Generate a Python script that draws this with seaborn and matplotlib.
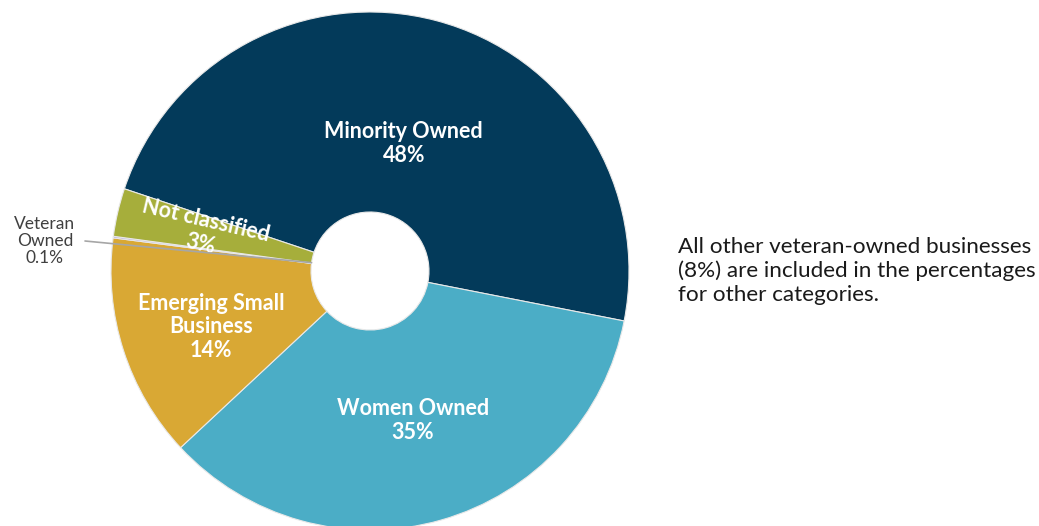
"""Share of contract dollars by business category (donut chart)."""

import matplotlib.pyplot as plt
import numpy as np
import seaborn as sns

sns.set_theme(style="white")
plt.rcParams["font.family"] = ["Lato", "DejaVu Sans"]

# ── Data ──────────────────────────────────────────────────────────────────────

CATEGORIES = ["Minority Owned", "Women Owned", "Emerging Small\nBusiness",
              "Veteran\nOwned", "Not classified"]
SHARES = [48, 35, 14, 0.1, 3]
PCT_LABELS = ["48%", "35%", "14%", "0.1%", "3%"]
COLORS = ["#033a5a", "#4badc6", "#d9a834", "#a99bd0", "#a6ae3b"]
NOTE = ("All other veteran-owned businesses\n"
        "(8%) are included in the percentages\n"
        "for other categories.")

# ── Figure ────────────────────────────────────────────────────────────────────

W, H = 1039, 526
fig = plt.figure(figsize=(W / 100, H / 100), dpi=100)
ax = fig.add_axes([0, 0, 1, 1])

cx, cy, R = 370, H - 271, 259
hole = 59 / R

wedges, _ = ax.pie(SHARES, colors=COLORS, startangle=161.5, counterclock=False,
                   center=(cx, cy), radius=R, frame=True,
                   wedgeprops=dict(width=R * (1 - hole), edgecolor="#e8e8e8",
                                   linewidth=0.8))
ax.set_xlim(0, W)
ax.set_ylim(0, H)
ax.set_aspect("equal")
ax.axis("off")

# labels inside the slices (radius factor, angle nudge in degrees)
label_pos = {0: (0.51, 0), 1: (0.6, 0), 2: (0.65, 1.5), 4: (0.66, 0)}
for i, w in enumerate(wedges):
    if i not in label_pos:
        continue
    rf, nudge = label_pos[i]
    mid = np.deg2rad((w.theta1 + w.theta2) / 2 + nudge)
    x = cx + R * rf * np.cos(mid)
    y = cy + R * rf * np.sin(mid)
    text = f"{CATEGORIES[i]}\n{PCT_LABELS[i]}"
    rot = 0
    if i == 4:
        rot = np.rad2deg(mid) - 180
    ax.text(x, y, text, ha="center", va="center", color="white",
            fontsize=15.5, fontweight="bold", linespacing=1.15, rotation=rot,
            rotation_mode="anchor")

# veteran sliver: outside label with leader line
vet = wedges[3]
mid = np.deg2rad((vet.theta1 + vet.theta2) / 2 - 0.6)
ax.plot([85, cx + R * hole * np.cos(mid)],
        [H - 241, cy + R * hole * np.sin(mid)],
        color="#a6a6a6", linewidth=1.2, zorder=3)
ax.text(45, H - 241, f"{CATEGORIES[3]}\n{PCT_LABELS[3]}", ha="center",
        va="center", color="#404040", fontsize=12.5, linespacing=1.05)

ax.text(678, H - 271, NOTE, ha="left", va="center", color="#1a1a1a",
        fontsize=16.2, linespacing=1.22)

fig.savefig("out.png", dpi=100)
